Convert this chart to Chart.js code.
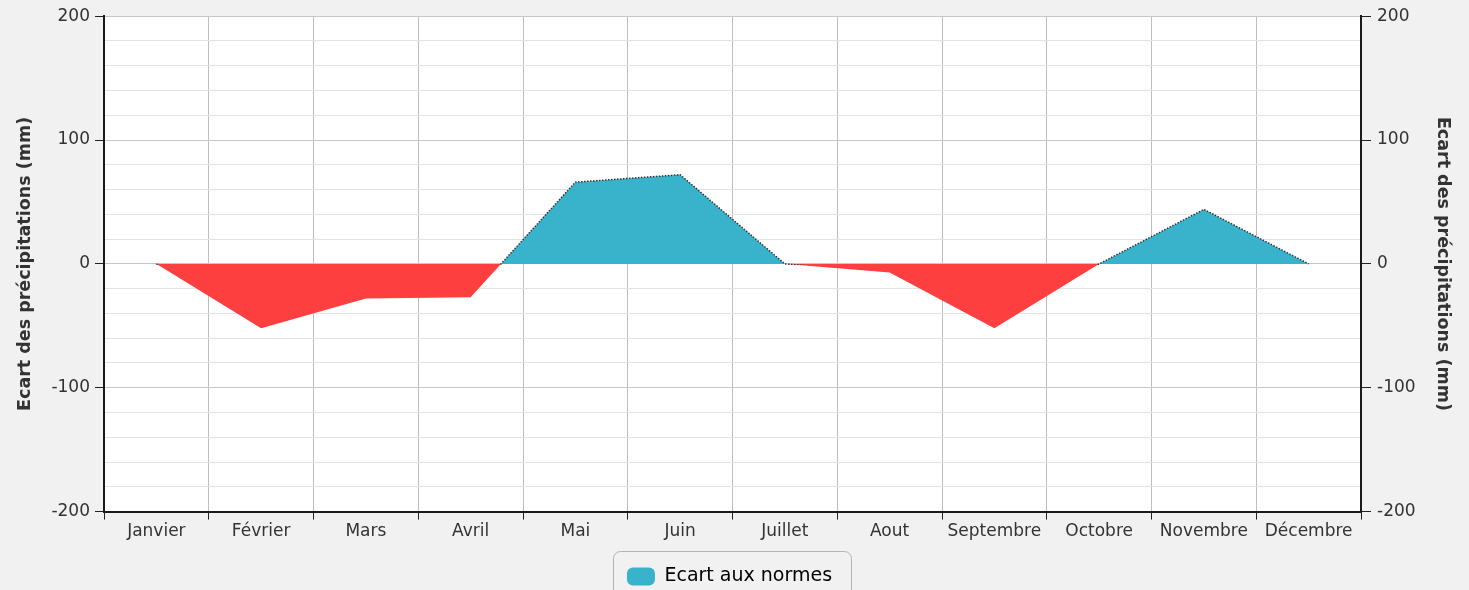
<!DOCTYPE html>
<html><head><meta charset="utf-8">
<script src="https://cdn.jsdelivr.net/npm/chart.js@4.4.1/dist/chart.umd.min.js"></script>
<style>html,body{margin:0;padding:0;background:#f1f1f1;overflow:hidden}#wrap{width:1469px;height:590px;position:relative}</style>
</head><body><div id="wrap"><canvas id="c" width="1469" height="590"></canvas></div>
<script>
const categories = ['Janvier','Février','Mars','Avril','Mai','Juin','Juillet','Aout','Septembre','Octobre','Novembre','Décembre'];
const ecartValues = [0, -52, -28, -27, 66, 72, 0, -7, -52, 0, 44, 0];
const yTickLabels = [-200, -100, 0, 100, 200];
const seriesLabel = 'Ecart aux normes';
const axisTitle = 'Ecart des précipitations (mm)';

const FONT = "'DejaVu Sans', Verdana, sans-serif";
const BLUE = '#38b3cb', RED = '#fe3f3f';

const bgPlugin = {
  id: 'bg',
  beforeDraw(chart) {
    const {ctx, chartArea: a} = chart;
    ctx.save();
    ctx.fillStyle = '#f1f1f1'; ctx.fillRect(0, 0, chart.width, chart.height);
    ctx.fillStyle = '#ffffff'; ctx.fillRect(a.left, a.top, a.right - a.left, a.bottom - a.top);
    ctx.restore();
  },
  afterDraw(chart) {
    const {ctx} = chart;
    const hb = chart.legend && chart.legend.legendHitBoxes && chart.legend.legendHitBoxes[0];
    if (hb) {
      ctx.save();
      ctx.strokeStyle = '#b4b4b4'; ctx.lineWidth = 1;
      ctx.beginPath();
      ctx.roundRect(Math.round(hb.left - 14) + 0.5, Math.round(hb.top - 16) + 0.5, Math.round(hb.width + 33), 70, 7);
      ctx.stroke();
      ctx.restore();
    }
  }
};

function lineColor(context) {
  const chart = context.chart;
  const a = chart.chartArea;
  if (!a) return '#3a3a3a';
  const y0 = chart.scales.y.getPixelForValue(0);
  const g = chart.ctx.createLinearGradient(0, a.top, 0, a.bottom);
  const s = Math.min(1, Math.max(0, (y0 + 1 - a.top) / (a.bottom - a.top)));
  g.addColorStop(0, '#333333');
  g.addColorStop(s, '#333333');
  g.addColorStop(s, 'rgba(0,0,0,0)');
  g.addColorStop(1, 'rgba(0,0,0,0)');
  return g;
}

const isMajor = c => c.tick && yTickLabels.includes(c.tick.value);

function yScale(pos) {
  return {
    position: pos, min: -200, max: 200,
    ticks: {stepSize: 20, autoSkip: false, callback: v => yTickLabels.includes(v) ? String(v) : '',
            font: {family: FONT, size: 17}, color: '#333', padding: pos === 'left' ? 5 : 6},
    grid: {drawOnChartArea: pos === 'left', color: c => isMajor(c) ? '#c6c6c6' : '#e3e3e3',
           tickColor: c => isMajor(c) ? '#222' : 'rgba(0,0,0,0)', tickLength: pos === 'left' ? 9 : 10},
    border: {color: '#1a1a1a', width: 2},
    title: {display: true, text: axisTitle, color: '#333',
            font: {family: FONT, size: 17.5, weight: 'bold'}, padding: {top: pos === 'left' ? 15 : 6, bottom: 0}},
    afterFit: s => { s.width = pos === 'left' ? 104 : 98; }
  };
}

new Chart(document.getElementById('c'), {
  type: 'line',
  data: {
    labels: categories,
    datasets: [{
      label: seriesLabel,
      data: ecartValues,
      yAxisID: 'y',
      fill: {target: 'origin', above: BLUE, below: RED},
      backgroundColor: BLUE,
      borderColor: lineColor,
      borderWidth: 1.5,
      borderDash: [1.5, 1.5],
      pointRadius: 0,
      tension: 0
    }]
  },
  options: {
    responsive: false,
    animation: false,
    devicePixelRatio: 1,
    layout: {padding: {top: 15, bottom: -6, left: 0, right: 10}},
    scales: {
      x: {
        offset: true,
        grid: {offset: true, color: '#bdbdbd', tickColor: '#222', tickLength: 8},
        border: {color: '#1a1a1a', width: 2},
        ticks: {font: {family: FONT, size: 17}, color: '#333', padding: 2, maxRotation: 0, autoSkip: false},
        afterFit: s => { s.height = s.height + 10; }
      },
      y: yScale('left'),
      y2: yScale('right')
    },
    plugins: {
      tooltip: {enabled: false},
      legend: {
        position: 'bottom',
        labels: {
          font: {family: FONT, size: 19}, color: '#222', boxWidth: 28, boxHeight: 18,
          useBorderRadius: true, borderRadius: 6, padding: 13,
          generateLabels: () => [{text: seriesLabel, fillStyle: BLUE, strokeStyle: BLUE, lineWidth: 0,
                                  hidden: false, datasetIndex: 0, borderRadius: 6}]
        }
      }
    }
  },
  plugins: [bgPlugin]
});
</script>
</body></html>
